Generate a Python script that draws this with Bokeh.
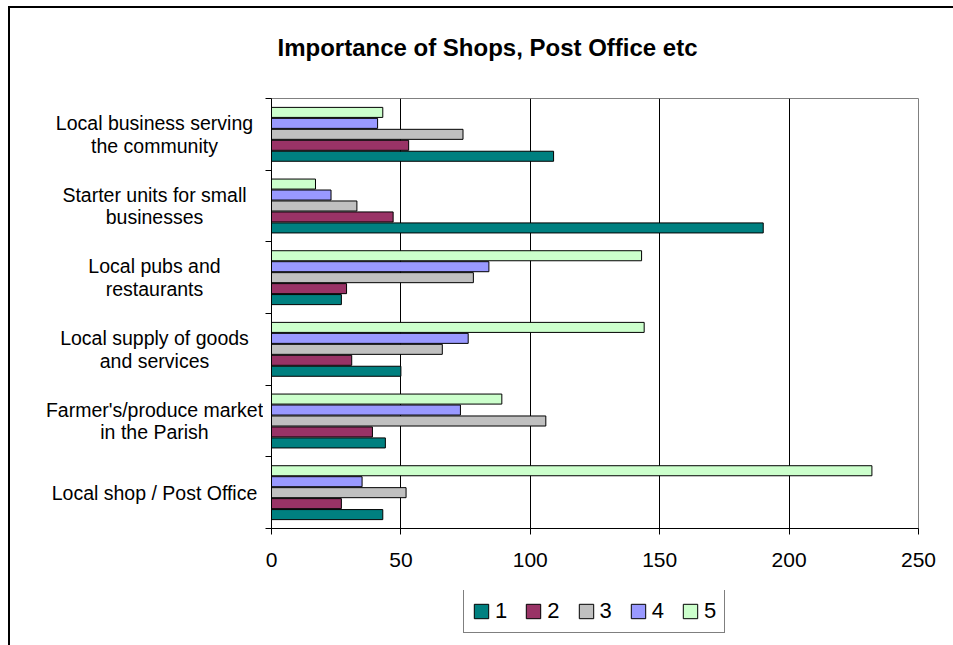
from bokeh.plotting import figure
from bokeh.layouts import row, column
from bokeh.models import ColumnDataSource, FixedTicker, Legend, LegendItem, Range1d
from bokeh.core.properties import value
from bokeh.transform import dodge
from bokeh.embed import file_html
from bokeh.resources import INLINE

# ---- data (top to bottom as displayed) ----
title_text = "Importance of Shops, Post Office etc"
categories = [
    "Local business serving\nthe community",
    "Starter units for small\nbusinesses",
    "Local pubs and\nrestaurants",
    "Local supply of goods\nand services",
    "Farmer's/produce market\nin the Parish",
    "Local shop / Post Office",
]
series_names = ["1", "2", "3", "4", "5"]
s1 = [109, 190, 27, 50, 44, 43]
s2 = [53, 47, 29, 31, 39, 27]
s3 = [74, 33, 78, 66, 106, 52]
s4 = [41, 23, 84, 76, 73, 35]
s5 = [43, 17, 143, 144, 89, 232]
x_ticks = [0, 50, 100, 150, 200, 250]
colors = ["#008080", "#993366", "#C0C0C0", "#9999FF", "#CCFFCC"]

FONT = "Liberation Sans"
n = len(categories)
pos = [n - 1 - i + 0.5 for i in range(n)]

src = ColumnDataSource(dict(pos=pos, cat=categories, s1=s1, s2=s2, s3=s3, s4=s4, s5=s5))

TOTAL_W = 943
LW = 253
PW = TOTAL_W - LW
TH = 60          # title strip
TOP, BOTTOM = 30, 62
H = TOP + 430 + BOTTOM
LH = 55          # legend strip


def blank(fig):
    fig.grid.visible = False
    fig.outline_line_color = None
    fig.background_fill_color = "white"
    fig.border_fill_color = "white"


# ---- title strip ----
tf = figure(width=TOTAL_W, height=TH, x_range=Range1d(0, TOTAL_W), y_range=Range1d(0, TH),
            x_axis_type=None, y_axis_type=None, output_backend="svg", toolbar_location=None,
            min_border_left=0, min_border_right=0, min_border_top=0, min_border_bottom=0)
blank(tf)
tf.text(x=[477], y=[21], text=[title_text], text_align="center", text_baseline="middle",
        text_font=value(FONT), text_font_size="24px", text_font_style="bold", text_color="#000000")

# ---- main plot ----
p = figure(width=PW, height=H, x_range=Range1d(0, 250), y_range=Range1d(0, n),
           output_backend="svg", toolbar_location=None,
           min_border_left=8, min_border_right=PW - 8 - 647, min_border_top=TOP, min_border_bottom=BOTTOM)
p.background_fill_color = "white"
p.border_fill_color = "white"
p.outline_line_color = "#808080"
p.outline_line_width = 1

pitch = 0.153
renderers = []
for k, (name, col) in enumerate(zip(series_names, colors)):
    off = (k - 2) * pitch
    r = p.hbar(y=dodge("pos", off), right="s%d" % (k + 1), left=0, height=0.14,
               source=src, fill_color=col, line_color="#000000", line_width=1)
    renderers.append(r)

p.xaxis.ticker = FixedTicker(ticks=x_ticks)
p.xaxis.axis_line_color = "#000000"
p.xaxis.major_tick_line_color = "#000000"
p.xaxis.major_tick_in = 0
p.xaxis.major_tick_out = 6
p.xaxis.minor_tick_line_color = None
p.xaxis.major_label_text_font = FONT
p.xaxis.major_label_text_font_size = "21px"
p.xaxis.major_label_text_color = "#000000"
p.xaxis.major_label_standoff = 18

p.xgrid.ticker = FixedTicker(ticks=x_ticks)
p.xgrid.grid_line_color = "#000000"
p.xgrid.grid_line_width = 1
p.ygrid.grid_line_color = None

# y axis: tick marks at category boundaries (labels drawn in the left strip)
p.yaxis.ticker = FixedTicker(ticks=pos, minor_ticks=list(range(n + 1)))
p.yaxis.major_label_overrides = {pv: "" for pv in pos}
p.yaxis.axis_line_color = "#000000"
p.yaxis.major_tick_line_color = None
p.yaxis.major_tick_out = 0
p.yaxis.major_tick_in = 0
p.yaxis.minor_tick_line_color = "#000000"
p.yaxis.minor_tick_out = 6
p.yaxis.minor_tick_in = 0
p.yaxis.major_label_standoff = 0

# ---- left strip with centred category labels ----
lf = figure(width=LW, height=H, x_range=Range1d(0, LW), y_range=p.y_range,
            x_axis_type=None, y_axis_type=None,
            output_backend="svg", toolbar_location=None,
            min_border_left=0, min_border_right=0, min_border_top=TOP, min_border_bottom=BOTTOM)
blank(lf)
lf.text(x=144, y="pos", text="cat", source=src, text_align="center", text_baseline="middle",
        text_font=value(FONT), text_font_size="19.5px", text_line_height=1.02, text_color="#000000")

# ---- legend strip ----
lg = figure(width=TOTAL_W, height=LH, x_range=Range1d(0, 1), y_range=Range1d(0, 1),
            x_axis_type=None, y_axis_type=None,
            output_backend="svg", toolbar_location=None,
            min_border_left=0, min_border_right=0, min_border_top=0, min_border_bottom=0)
blank(lg)
swatches = []
for col in colors:
    # one off-screen bar per series so the legend can draw its swatch
    swatches.append(lg.hbar(y=[-5], right=[1], left=0, height=0.1,
                            fill_color=col, line_color="#000000", line_width=1))

legend = Legend(items=[LegendItem(label=nm, renderers=[r]) for nm, r in zip(series_names, swatches)],
                orientation="horizontal", location=(453, 12))
legend.border_line_color = "#000000"
legend.border_line_width = 1
legend.background_fill_color = "white"
legend.background_fill_alpha = 1
legend.label_text_font = FONT
legend.label_text_font_size = "22px"
legend.label_text_color = "#000000"
legend.label_width = 12
legend.glyph_width = 18
legend.glyph_height = 18
legend.label_standoff = 5
legend.spacing = 17
legend.padding = 8
legend.margin = 0
lg.add_layout(legend, "center")

layout = column(tf, row(lf, p), lg)
layout.styles = {"border-top": "2px solid #000000", "border-left": "2px solid #000000",
                 "margin-left": "8px", "margin-top": "6px"}
open("out.html", "w").write(file_html(layout, INLINE))
